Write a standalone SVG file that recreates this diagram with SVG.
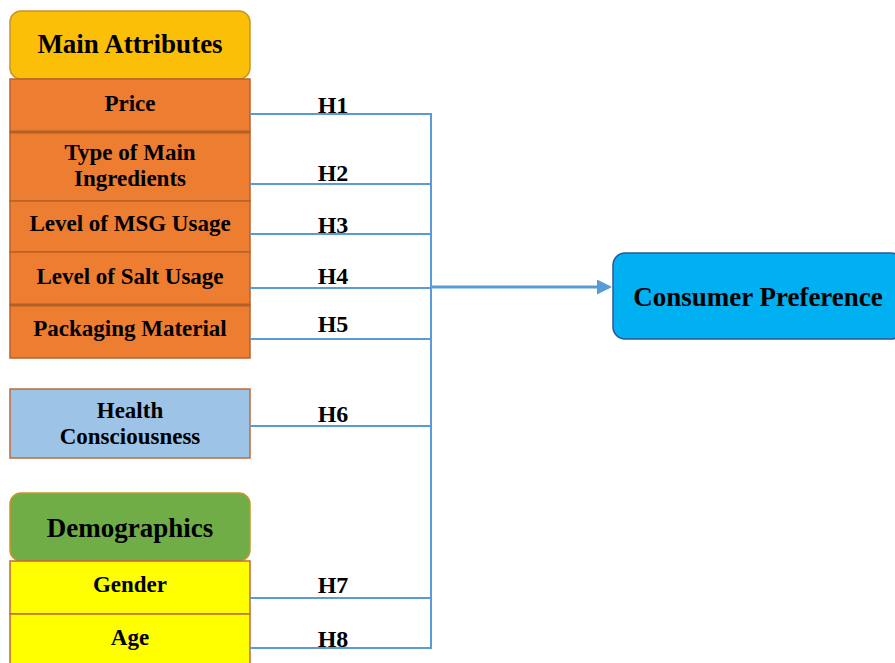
<svg xmlns="http://www.w3.org/2000/svg" width="895" height="663" viewBox="0 0 895 663">
<defs>
<style>
text{font-family:"Liberation Serif","Times New Roman",serif;font-weight:bold;fill:#000;text-anchor:middle}
.t{font-size:23px}
.h{font-size:27px}
.lbl{font-size:24px}
.orange{fill:#ED7D31;stroke:#B8622A;stroke-width:1.5}
.con{fill:none;stroke:#5B9BD5;stroke-width:2}
.div{stroke:#B35F25;stroke-width:3}
</style>
<marker id="ah" markerWidth="5" markerHeight="5" refX="4" refY="2.5" orient="auto" markerUnits="strokeWidth">
<path d="M0,0 L5,2.5 L0,5 z" fill="#5B9BD5"/>
</marker>
</defs>
<rect width="895" height="663" fill="#fff"/>

<g id="main-attributes">
<rect x="10" y="11" width="240" height="68" rx="11" fill="#FBBF07" stroke="#C8952A" stroke-width="1.5"/>
<text class="h" x="130" y="53">Main Attributes</text>
</g>
<g id="price">
<rect class="orange" x="10" y="79" width="240" height="53"/>
<text class="t" x="130" y="111">Price</text>
</g>
<g id="type-of-main-ingredients">
<rect class="orange" x="10" y="132" width="240" height="69"/>
<line class="div" x1="10" y1="132" x2="250" y2="132"/>
<text class="t" x="130" y="160">Type of Main</text>
<text class="t" x="130" y="186">Ingredients</text>
</g>
<g id="level-msg">
<rect class="orange" x="10" y="201" width="240" height="51"/>
<text class="t" x="130" y="231">Level of MSG Usage</text>
</g>
<g id="level-salt">
<rect class="orange" x="10" y="252" width="240" height="53"/>
<text class="t" x="130" y="284">Level of Salt Usage</text>
</g>
<g id="packaging-material">
<rect class="orange" x="10" y="305" width="240" height="53"/>
<line class="div" x1="10" y1="305" x2="250" y2="305"/>
<text class="t" x="130" y="336">Packaging Material</text>
</g>
<g id="health-consciousness">
<rect x="10" y="389" width="240" height="69" fill="#9DC3E6" stroke="#C0693A" stroke-width="1.5"/>
<text class="t" x="130" y="418">Health</text>
<text class="t" x="130" y="444">Consciousness</text>
</g>
<g id="demographics">
<rect x="10" y="493" width="240" height="68" rx="11" fill="#70AD47" stroke="#C8952A" stroke-width="1.5"/>
<text class="h" x="130" y="537">Demographics</text>
</g>
<g id="gender">
<rect x="10" y="561" width="240" height="53" fill="#FFFF00" stroke="#C0693A" stroke-width="1.5"/>
<text class="t" x="130" y="592">Gender</text>
</g>
<g id="age">
<rect x="10" y="614" width="240" height="52" fill="#FFFF00" stroke="#C0693A" stroke-width="1.5"/>
<text class="t" x="130" y="645">Age</text>
</g>
<g id="consumer-preference">
<rect x="613" y="253" width="290" height="86" rx="12" fill="#00B0F0" stroke="#2F5597" stroke-width="1.5"/>
<text class="h" x="758" y="306">Consumer Preference</text>
</g>

<g id="connectors">
<path class="con" d="M250,114 H431 M250,184 H431 M250,234 H431 M250,288 H431 M250,339 H431 M250,426 H431 M250,598 H431 M250,648 H431 M431,113 V649"/>
<line x1="431" y1="287" x2="609" y2="287" stroke="#5B9BD5" stroke-width="3" marker-end="url(#ah)"/>
<text class="lbl" x="333" y="113">H1</text>
<text class="lbl" x="333" y="181">H2</text>
<text class="lbl" x="333" y="233">H3</text>
<text class="lbl" x="333" y="284">H4</text>
<text class="lbl" x="333" y="332">H5</text>
<text class="lbl" x="333" y="422">H6</text>
<text class="lbl" x="333" y="593">H7</text>
<text class="lbl" x="333" y="647">H8</text>
</g>
</svg>
